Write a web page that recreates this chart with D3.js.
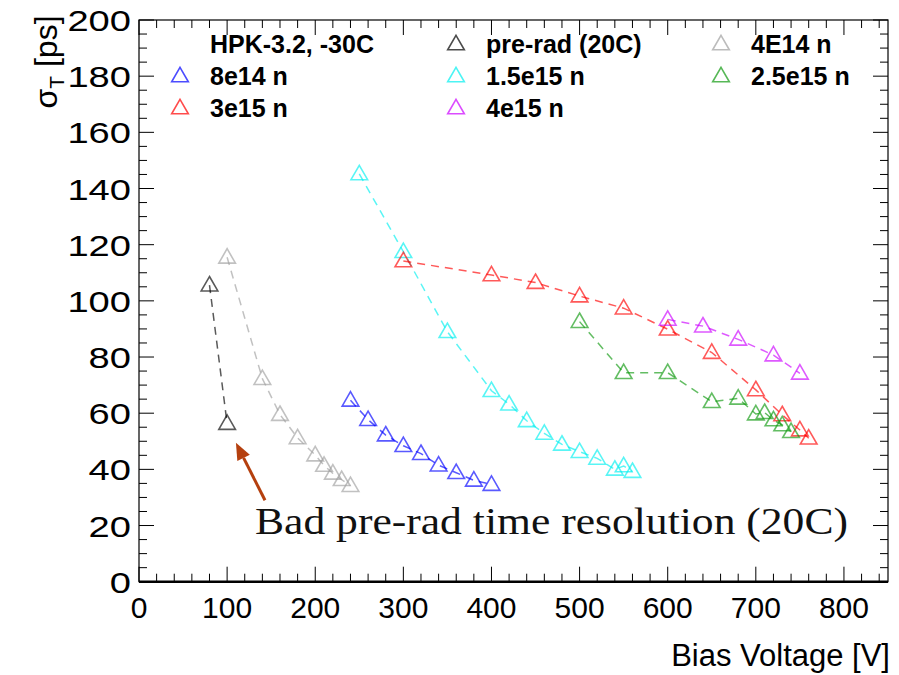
<!DOCTYPE html>
<html>
<head>
<meta charset="utf-8">
<script src="https://cdn.jsdelivr.net/npm/d3@7"></script>
<style>
  html, body { margin: 0; padding: 0; background: #fff; }
  svg { display: block; }
</style>
</head>
<body>
<svg id="chart" width="899" height="675"></svg>
<script>
// ---- data ----
const seriesNames = ["pre-rad (20C)", "4E14 n", "8e14 n", "1.5e15 n", "3e15 n", "4e15 n", "2.5e15 n"];
const seriesColors = ["#000000", "#a0a0a0", "#0000ff", "#00f0f0", "#ff0000", "#cc00ff", "#109a10"];

const preRadV = [80, 100];
const preRadT = [105.6, 56.3];

const n4e14V = [100, 140, 160, 180, 200, 210, 220, 230, 240];
const n4e14T = [115.5, 72.3, 59.5, 51.2, 45.1, 41.4, 38.6, 36.3, 34.2];

const n8e14V = [240, 260, 280, 300, 320, 340, 360, 380, 400];
const n8e14T = [64.6, 57.7, 52.2, 48.4, 45.6, 41.5, 38.8, 36.1, 34.6];

const n15e15V = [250, 300, 350, 400, 420, 440, 460, 480, 500, 520, 540, 550, 560];
const n15e15T = [145.2, 117.5, 89.0, 68.0, 63.2, 57.3, 52.8, 48.9, 46.3, 43.9, 40.0, 41.2, 39.2];

const n3e15V = [300, 400, 450, 500, 550, 600, 650, 700, 730, 750, 760];
const n3e15T = [114.2, 109.2, 106.5, 101.7, 97.4, 89.9, 81.6, 68.3, 59.4, 54.0, 51.1];

const n4e15V = [600, 640, 680, 720, 750];
const n4e15T = [93.4, 91.0, 86.3, 80.7, 74.2];

const n25e15V = [500, 550, 600, 650, 680, 700, 710, 720, 730, 740];
const n25e15T = [92.6, 74.4, 74.4, 64.1, 65.3, 59.7, 60.2, 57.6, 55.8, 53.4];

const xTicks = [0, 100, 200, 300, 400, 500, 600, 700, 800];
const yTicks = [0, 20, 40, 60, 80, 100, 120, 140, 160, 180, 200];

const legendHeader = "HPK-3.2, -30C";
const annotationText = "Bad pre-rad time resolution (20C)";

// ---- layout ----
const svg = d3.select("#chart");
const x = d3.scaleLinear().domain([0, 850]).range([139, 888]);
const y = d3.scaleLinear().domain([0, 200]).range([581.7, 20]);

const seriesV = [preRadV, n4e14V, n8e14V, n15e15V, n3e15V, n4e15V, n25e15V];
const seriesT = [preRadT, n4e14T, n8e14T, n15e15T, n3e15T, n4e15T, n25e15T];
const series = seriesNames.map((name, i) => ({
  name, color: seriesColors[i],
  pts: seriesV[i].map((v, j) => ({ v, t: seriesT[i][j] }))
}));

// frame
const x0 = x.range()[0], x1 = x.range()[1], y0 = y.range()[0], y1 = y.range()[1];
svg.append("rect").attr("x", x0).attr("y", y1).attr("width", x1 - x0).attr("height", y0 - y1)
  .attr("fill", "none").attr("stroke", "#000").attr("stroke-width", 1.2);

// ticks (inward, all four sides)
const g = svg.append("g").attr("stroke", "#000").attr("stroke-width", 1);
const xMinor = d3.range(0, 851, 20);
xMinor.forEach(v => {
  const major = v % 100 === 0;
  const len = major ? 15 : 8;
  g.append("line").attr("x1", x(v)).attr("x2", x(v)).attr("y1", y0).attr("y2", y0 - len);
  g.append("line").attr("x1", x(v)).attr("x2", x(v)).attr("y1", y1).attr("y2", y1 + len);
});
const yMinor = d3.range(0, 201, 5);
yMinor.forEach(v => {
  const major = v % 20 === 0;
  const len = major ? 15 : 8;
  g.append("line").attr("x1", x0).attr("x2", x0 + len).attr("y1", y(v)).attr("y2", y(v));
  g.append("line").attr("x1", x1).attr("x2", x1 - len).attr("y1", y(v)).attr("y2", y(v));
});
// thicker bottom axis line
svg.append("line").attr("x1", x0).attr("x2", x1).attr("y1", y0).attr("y2", y0)
  .attr("stroke", "#000").attr("stroke-width", 2.5);

// tick labels
svg.append("g").selectAll("text").data(xTicks).join("text")
  .attr("x", d => x(d)).attr("y", 618)
  .attr("text-anchor", "middle")
  .attr("font-family", "'Liberation Sans Narrow', 'Liberation Sans', Arial, sans-serif")
  .attr("font-size", 30).attr("fill", "#000")
  .text(d => d);

svg.append("g").selectAll("text").data(yTicks).join("text")
  .attr("transform", d => `translate(131,${y(d) + 11}) scale(1.27,1)`)
  .attr("text-anchor", "end")
  .attr("font-family", "'Liberation Sans', Arial, sans-serif")
  .attr("font-size", 30).attr("fill", "#000")
  .text(d => d);

// axis titles
svg.append("text").attr("x", 890).attr("y", 666).attr("text-anchor", "end")
  .attr("font-family", "'Liberation Sans', Arial, sans-serif").attr("font-size", 31)
  .text("Bias Voltage [V]");

const yt = svg.append("text").attr("transform", "translate(57,62) rotate(-90)")
  .attr("text-anchor", "middle")
  .attr("font-family", "'Liberation Sans', Arial, sans-serif").attr("font-size", 32);
yt.append("tspan").text("σ");
yt.append("tspan").attr("font-size", 21).attr("dy", 7).text("T");
yt.append("tspan").attr("dy", -7).text(" [ps]");

// triangle symbol
const tri = d3.symbol().type(d3.symbolTriangle).size(120);

// dashed lines and markers
const line = d3.line().x(d => x(d.v)).y(d => y(d.t));
const plot = svg.append("g");
series.forEach(s => {
  plot.append("path").attr("d", line(s.pts))
    .attr("fill", "none").attr("stroke", s.color).attr("stroke-width", 1.5)
    .attr("stroke-dasharray", "8,6").attr("stroke-opacity", 0.65);
  plot.append("g").selectAll("path").data(s.pts).join("path")
    .attr("transform", d => `translate(${x(d.v)},${y(d.t) + 1})`)
    .attr("d", tri)
    .attr("fill", "none").attr("stroke", s.color).attr("stroke-width", 1.6)
    .attr("stroke-opacity", 0.65);
});

// legend
const legendItems = [
  { label: legendHeader, color: null, col: 0, row: 0 },
  { label: seriesNames[0], color: seriesColors[0], col: 1, row: 0 },
  { label: seriesNames[1], color: seriesColors[1], col: 2, row: 0 },
  { label: seriesNames[2], color: seriesColors[2], col: 0, row: 1 },
  { label: seriesNames[3], color: seriesColors[3], col: 1, row: 1 },
  { label: seriesNames[6], color: seriesColors[6], col: 2, row: 1 },
  { label: seriesNames[4], color: seriesColors[4], col: 0, row: 2 },
  { label: seriesNames[5], color: seriesColors[5], col: 1, row: 2 }
];
const colX = [180, 456, 721];
const rowY = [44, 76, 108];
const leg = svg.append("g");
legendItems.forEach(it => {
  const cx = colX[it.col], cy = rowY[it.row];
  if (it.color) {
    leg.append("path").attr("transform", `translate(${cx},${cy + 1})`).attr("d", tri)
      .attr("fill", "none").attr("stroke", it.color).attr("stroke-width", 1.6).attr("stroke-opacity", 0.7);
  }
  leg.append("text").attr("x", cx + 30).attr("y", cy + 9)
    .attr("font-family", "'Liberation Sans', Arial, sans-serif").attr("font-weight", "bold")
    .attr("font-size", 25).attr("fill", "#000").text(it.label);
});

// annotation
const arrowTail = [143, 29], arrowTip = [110, 49.5];
const ax0 = x(arrowTail[0]), ay0 = y(arrowTail[1]), ax1 = x(arrowTip[0]), ay1 = y(arrowTip[1]);
const ang = Math.atan2(ay1 - ay0, ax1 - ax0);
const headLen = 17, headW = 7;
const bx = ax1 - headLen * Math.cos(ang), by = ay1 - headLen * Math.sin(ang);
svg.append("line").attr("x1", ax0).attr("y1", ay0).attr("x2", bx).attr("y2", by)
  .attr("stroke", "#b5400f").attr("stroke-width", 3);
svg.append("path")
  .attr("d", `M${ax1},${ay1} L${bx + headW * Math.sin(ang)},${by - headW * Math.cos(ang)} L${bx - headW * Math.sin(ang)},${by + headW * Math.cos(ang)} Z`)
  .attr("fill", "#b5400f");

svg.append("text").attr("x", 255).attr("y", 534)
  .attr("font-family", "'Liberation Serif', 'DejaVu Serif', serif").attr("font-size", 38)
  .attr("textLength", 593).attr("lengthAdjust", "spacingAndGlyphs")
  .attr("fill", "#111").text(annotationText);
</script>
</body>
</html>
